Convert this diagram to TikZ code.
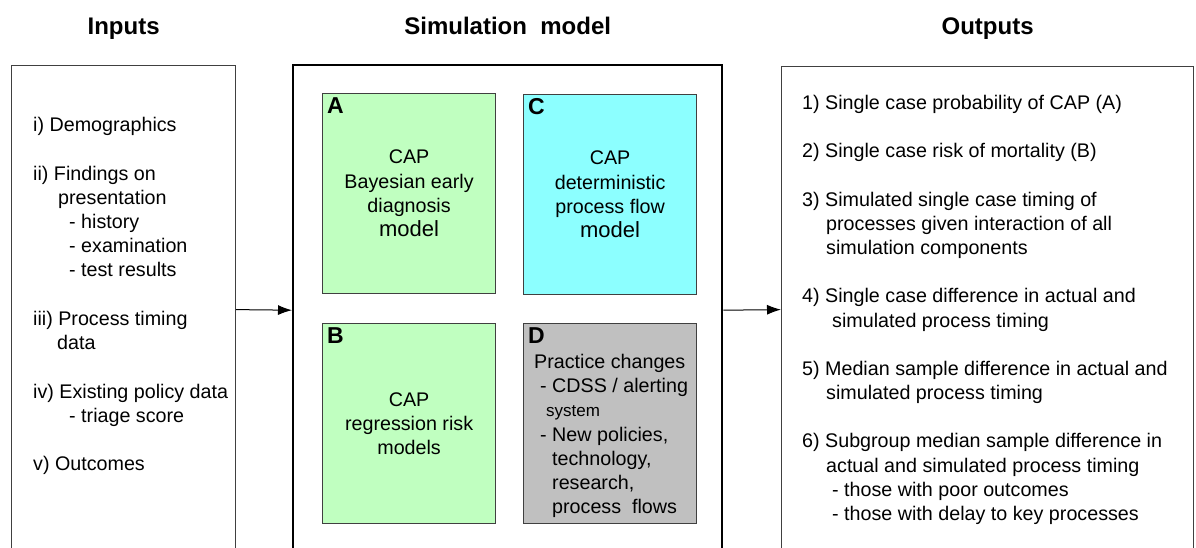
\documentclass[tikz,border=0pt]{standalone}
\usepackage{fontspec}
\setmainfont{Liberation Sans}
\usepackage{tikz}
\usetikzlibrary{calc,arrows.meta}

\definecolor{modelgreen}{RGB}{192,255,192}
\definecolor{modelcyan}{RGB}{140,255,255}
\definecolor{modelgray}{RGB}{192,192,192}
\definecolor{framegray}{RGB}{64,64,64}

\begin{document}
\begin{tikzpicture}[x=1pt,y=-1pt,
    panel/.style={draw=framegray,line width=1.2pt,anchor=north west,inner sep=0pt},
    simpanel/.style={draw=black,line width=2.4pt,anchor=north west,inner sep=0pt},
    model/.style={draw=framegray,line width=1.2pt,anchor=north west,inner sep=0pt,minimum width=173pt,minimum height=200pt},
    heading/.style={anchor=base,font=\fontsize{24}{28}\selectfont\bfseries},
    letter/.style={anchor=north west,inner sep=0pt,font=\fontsize{23}{27}\selectfont\bfseries},
    listtext/.style={anchor=north west,inner sep=0pt,align=left,font=\fontsize{19.7}{24.2}\selectfont},
    modeltext/.style={inner sep=0pt,align=center,font=\fontsize{19.7}{24.3}\selectfont},
    feed/.style={line width=1pt,-{Latex[length=14pt,width=10pt]}}]

                                     \useasboundingbox (0,0) rectangle (1196,547);
                                     \coordinate (hline) at (0,34);

                                     \node[panel,minimum width=224pt,minimum height=488pt](inputs)at(11,65){};
                                     \node[simpanel,minimum width=429pt,minimum height=490pt](sim)at(292,64){};
                                     \node[panel,minimum width=412pt,minimum height=486pt](outputs)at(781,66){};

                                     \node[heading](tin)at(inputs.north |- hline){Inputs};
                                     \node[heading](tsim)at(sim.north |- hline){Simulation\ \ model};
                                     \node[heading](tout)at(outputs.north |- hline){Outputs};

                                     \node[model,fill=modelgreen](boxA)at(322,93){};
                                     \node[model,fill=modelcyan](boxC)at(523,94){};
                                     \node[model,fill=modelgreen](boxB)at(322,323){};
                                     \node[model,fill=modelgray](boxD)at(523,323){};

                                     \node[letter](labA)at($(boxA.north west)+(5,4)$){A};
                                     \node[letter](labC)at($(boxC.north west)+(5,4)$){C};
                                     \node[letter](labB)at($(boxB.north west)+(5,4)$){B};
                                     \node[letter](labD)at($(boxD.north west)+(5,4)$){D};

                                     \node[modeltext](txtA)at(boxA.center){CAP\\Bayesian early\\diagnosis\\{\fontsize{22}{24.3}\selectfont model}};
                                     \node[modeltext](txtC)at(boxC.center){CAP\\deterministic\\process flow\\{\fontsize{22}{24.3}\selectfont model}};
                                     \node[modeltext](txtB)at(boxB.center){CAP\\regression risk\\models};
                                     \node[listtext](txtD)at($(boxD.north west)+(11,31)$){Practice changes\\
                                         \hspace*{6pt}- CDSS / alerting\\
                                         \hspace*{12pt}{\fontsize{17}{24.2}\selectfont system}\\
                                         \hspace*{6pt}- New policies,\\
                                         \hspace*{18pt}technology,\\
                                         \hspace*{18pt}research,\\
                                         \hspace*{18pt}process\ \ flows};

                                     \node[listtext](inlist)at(33,114.5){\strut i) Demographics\\[24.3pt]
                                         ii) Findings on\\
                                         \hspace*{25pt}presentation\\
                                         \hspace*{36pt}- history\\
                                         \hspace*{36pt}- examination\\
                                         \hspace*{36pt}- test results\\[24.3pt]
                                         iii) Process timing\\
                                         \hspace*{24pt}data\\[24.3pt]
                                         iv) Existing policy data\\
                                         \hspace*{36pt}- triage score\\[24.3pt]
                                         v) Outcomes};

                                     \node[listtext](outlist)at(802,92.4){\strut 1) Single case probability of CAP (A)\\[24.1pt]
                                         2) Single case risk of mortality (B)\\[24.1pt]
                                         3) Simulated single case timing of\\
                                         \hspace*{24pt}processes given interaction of all\\
                                         \hspace*{24pt}simulation components\\[24.1pt]
                                         4) Single case difference in actual and\\
                                         \hspace*{30pt}simulated process timing\\[24.1pt]
                                         5) Median sample difference in actual and\\
                                         \hspace*{24pt}simulated process timing\\[24.1pt]
                                         6) Subgroup median sample difference in\\
                                         \hspace*{24pt}actual and simulated process timing\\
                                         \hspace*{30pt}- those with poor outcomes\\
                                         \hspace*{30pt}- those with delay to key processes};

                                     \draw[feed](inputs.east)--(sim.west);
                                     \draw[feed](sim.east)--(outputs.west);
                                 \end{tikzpicture}
\end{document}
